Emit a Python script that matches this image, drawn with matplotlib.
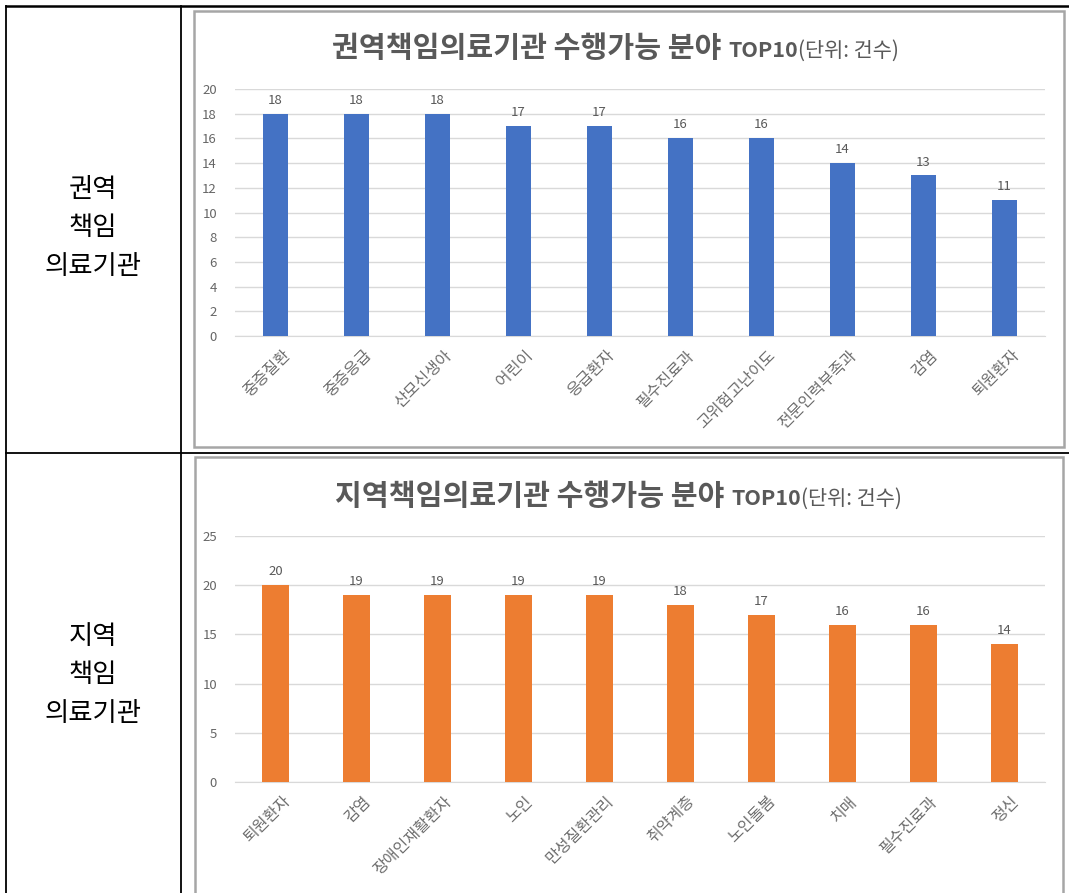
import numpy as np
import matplotlib.pyplot as plt
import matplotlib.transforms as mtransforms
from matplotlib.lines import Line2D
from matplotlib.patches import Rectangle

plt.rcParams['font.family'] = ['Noto Sans CJK KR', 'DejaVu Sans']

# 데이터
권역_분야 = ['중증질환', '중증응급', '산모신생아', '어린이', '응급환자',
          '필수진료과', '고위험고난이도', '전문인력부족과', '감염', '퇴원환자']
권역_건수 = [18, 18, 18, 17, 17, 16, 16, 14, 13, 11]

지역_분야 = ['퇴원환자', '감염', '장애인재활환자', '노인', '만성질환관리',
          '취약계층', '노인돌봄', '치매', '필수진료과', '정신']
지역_건수 = [20, 19, 19, 19, 19, 18, 17, 16, 16, 14]

W, H = 1069, 893
fig = plt.figure(figsize=(W / 100, H / 100), dpi=100)

fx = lambda px: px / W
fy = lambda py: 1 - py / H

회색글자 = '#595959'
격자색 = '#d9d9d9'

# 표 테두리
def hline(y, x0=6, x1=1069, lw=1.3):
    fig.add_artist(Line2D([fx(x0), fx(x1)], [fy(y), fy(y)], color='black', lw=lw))

def vline(x, y0=6, y1=893, lw=1.3):
    fig.add_artist(Line2D([fx(x), fx(x)], [fy(y0), fy(y1)], color='black', lw=lw))

hline(6, lw=1.8)
hline(453)
vline(6)
vline(181)

# 차트 테두리
def frame(x0, y0, x1, y1):
    fig.add_artist(Rectangle((fx(x0), fy(y1)), fx(x1) - fx(x0), fy(y0) - fy(y1),
                             fill=False, edgecolor='#a6a6a6', lw=1.8))

frame(194, 11, 1064, 447)
frame(195, 457, 1063, 900)

# 왼쪽 셀 글자
fig.text(fx(93), fy(228), '권역\n책임\n의료기관', ha='center', va='center',
         fontsize=19, linespacing=1.56)
fig.text(fx(93), fy(675), '지역\n책임\n의료기관', ha='center', va='center',
         fontsize=19, linespacing=1.56)


def title(x_px, y_px, main):
    t1 = fig.text(fx(x_px), fy(y_px), main + ' ', fontsize=21, fontweight='bold',
                  color=회색글자, va='baseline')
    t2 = fig.text(0, 0, 'TOP10', fontsize=15.5, fontweight='bold', color=회색글자)
    t3 = fig.text(0, 0, '(단위: 건수)', fontsize=15, color=회색글자)
    fig.canvas.draw()
    r = fig.canvas.get_renderer()
    x = t1.get_window_extent(r).x1
    t2.set_position((x / W, fy(y_px)))
    t2.set_va('baseline')
    fig.canvas.draw()
    x = t2.get_window_extent(r).x1
    t3.set_position((x / W, fy(y_px)))
    t3.set_va('baseline')


def bar_chart(ax, cats, vals, color, ymax, step, width):
    x = np.arange(len(cats))
    bars = ax.bar(x, vals, width=width, color=color, zorder=3)
    for b, v in zip(bars, vals):
        ax.annotate(str(v), (b.get_x() + b.get_width() / 2, v), xytext=(0, 5),
                    textcoords='offset points', ha='center', va='bottom',
                    fontsize=9.5, color=회색글자)
    ax.set_xlim(-0.5, len(cats) - 0.5)
    ax.set_ylim(0, ymax)
    ax.set_yticks(np.arange(0, ymax + 1, step))
    ax.yaxis.grid(True, color=격자색, lw=1)
    for s in ['top', 'right', 'left']:
        ax.spines[s].set_visible(False)
    ax.spines['bottom'].set_color(격자색)
    ax.tick_params(axis='both', length=0, labelsize=9.5, labelcolor='#666666')
    ax.tick_params(axis='y', pad=13)
    ax.set_xticks(x)
    ax.set_xticklabels(cats, rotation=45, ha='right', rotation_mode='anchor',
                       fontsize=11.5, color='#6e6e6e')
    off = mtransforms.ScaledTranslation(6 / 100, -6 / 100, fig.dpi_scale_trans)
    for lab in ax.get_xticklabels():
        lab.set_transform(lab.get_transform() + off)


ax1 = fig.add_axes([fx(235), fy(336), fx(1045) - fx(235), fy(89) - fy(336)])
bar_chart(ax1, 권역_분야, 권역_건수, '#4472c4', 20, 2, 0.3)

ax2 = fig.add_axes([fx(235), fy(782), fx(1045) - fx(235), fy(536) - fy(782)])
bar_chart(ax2, 지역_분야, 지역_건수, '#ed7d31', 25, 5, 0.33)

title(332, 57, '권역책임의료기관 수행가능 분야')
title(335, 505, '지역책임의료기관 수행가능 분야')

fig.savefig('out.png', dpi=100)
